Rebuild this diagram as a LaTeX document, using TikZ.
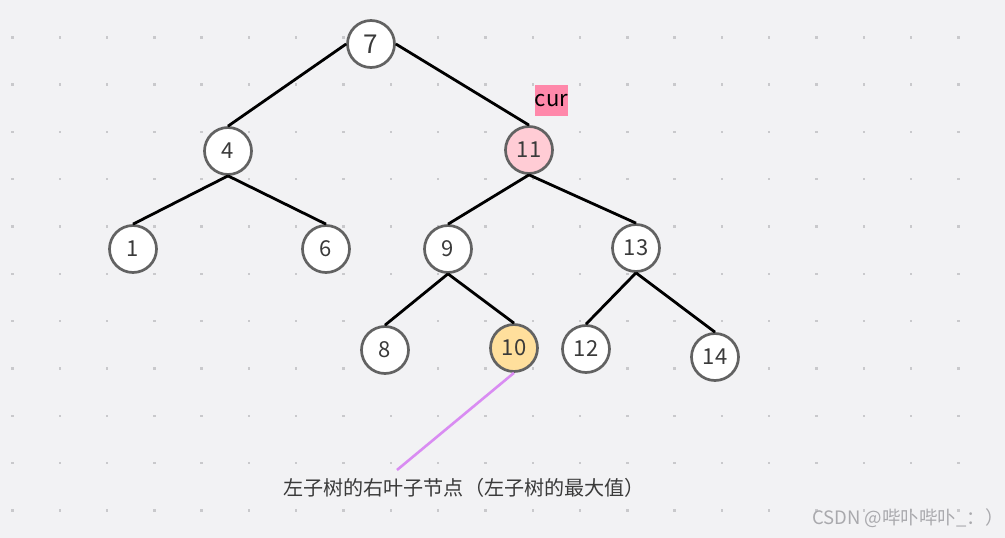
\documentclass[tikz,border=0pt]{standalone}
\usepackage{fontspec}
\setmainfont{Noto Sans CJK SC}
\definecolor{bg}{HTML}{F2F2F4}
\definecolor{dotc}{HTML}{C9C9CC}
\definecolor{ringc}{HTML}{626262}
\definecolor{txtc}{HTML}{3A3A3A}
\definecolor{pinkfill}{HTML}{FFCCD5}
\definecolor{orangefill}{HTML}{FFDF9C}
\definecolor{curpink}{HTML}{FF88AA}
\definecolor{magline}{HTML}{D98CF2}
\definecolor{wmc}{HTML}{A9A9AD}
\tikzset{
  tn/.style={circle, minimum size=47pt, inner sep=0pt, draw=ringc, line width=2.7pt,
             fill=white, text=txtc, font=\fontsize{22}{22}\selectfont},
  edge/.style={line width=2.8pt, black},
}
\begin{document}
\begin{tikzpicture}[x=1pt, y=-1pt]
\useasboundingbox (0,0) rectangle (1005,538);
\fill[bg] (0,0) rectangle (1005,538);
% dot grid
\foreach \i in {0,...,21}{
  \foreach \j in {0,...,10}{
    \fill[dotc] ({12.4+47.3*\i-1.2},{37.3+47.3*\j-1.2}) rectangle ++(2.4,2.4);
  }
}
% nodes
\node[tn, font=\fontsize{26}{26}\selectfont] (n7) at (371,44) {7};
\node[tn] (n4) at (228,151) {4};
\node[tn, fill=pinkfill] (n11) at (529,150) {11};
\node[tn] (n1) at (133,249) {1};
\node[tn] (n6) at (326,249) {6};
\node[tn] (n9) at (448,249) {9};
\node[tn] (n13) at (636,248) {13};
\node[tn] (n8) at (385,350) {8};
\node[tn, fill=orangefill] (n10) at (514,348) {10};
\node[tn] (n12) at (586,349) {12};
\node[tn] (n14) at (715,357) {14};
% edges
\draw[edge] (n7.west) -- (n4.north);
\draw[edge] (n7.east) -- (n11.north);
\draw[edge] (n4.south) -- (n1.north);
\draw[edge] (n4.south) -- (n6.north);
\draw[edge] (n11.south) -- (n9.north);
\draw[edge] (n11.south) -- (n13.north);
\draw[edge] (n9.south) -- (n8.north);
\draw[edge] (n9.south) -- (n10.north);
\draw[edge] (n13.south) -- (n12.north);
\draw[edge] (n13.south) -- (n14.north);
% cur label
\node[fill=curpink, inner sep=0pt, minimum width=31pt, minimum height=31pt,
      font=\fontsize{22}{22}\selectfont, text=black] (cur) at (551.5,100.5) {cur};
% annotation
\coordinate (lblend) at (397,470);
\draw[magline, line width=2.6pt] (n10.south) -- (lblend);
\node[font=\fontsize{20.1}{20.1}\selectfont, text=txtc] (lbl) at (464,488)
  {左子树的右叶子节点（左子树的最大值）};
% watermark
\node[anchor=west, font=\fontsize{18.5}{18.5}\selectfont, text=wmc, inner sep=0pt] (wm) at (812,518)
  {CSDN @哔卟哔卟\_：）};
\end{tikzpicture}
\end{document}
